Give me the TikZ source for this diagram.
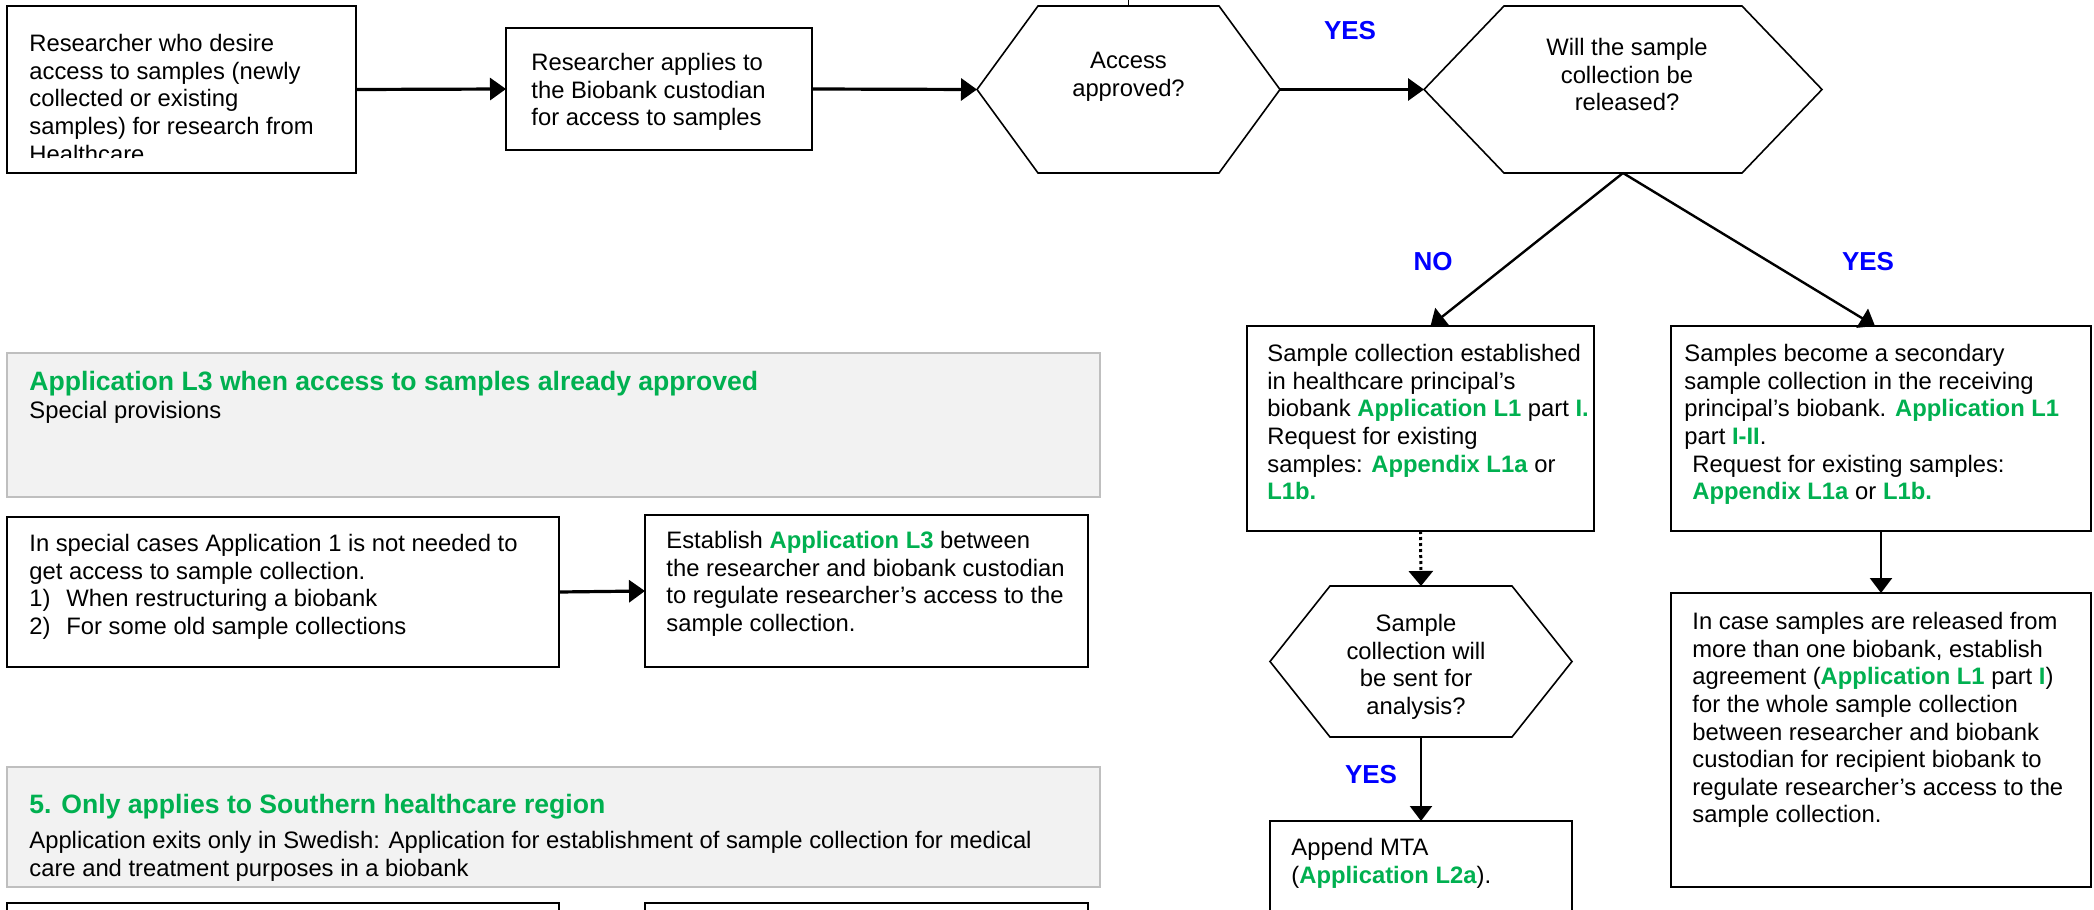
\documentclass[tikz,border=0pt]{standalone}
\usepackage{fontspec}
\setmainfont{Liberation Sans}
\usetikzlibrary{arrows.meta,calc}
\definecolor{grn}{HTML}{00B050}
\definecolor{lblue}{HTML}{0000FF}
\definecolor{gfill}{HTML}{F2F2F2}
\definecolor{gline}{HTML}{BFBFBF}
\newcommand{\gbold}[1]{\textcolor{grn}{\textbf{#1}}}
\newcommand{\bodyfont}{\fontsize{11.9pt}{13.8pt}\selectfont}
\newcommand{\titlefont}{\fontsize{13.3pt}{15pt}\selectfont\bfseries}
\begin{document}
\begin{tikzpicture}[x=0.5pt,y=-0.5pt,
  box/.style={draw=black,line width=1pt,rectangle,inner sep=0pt,outer sep=0pt},
  graybox/.style={draw=gline,fill=gfill,line width=1pt,rectangle,inner sep=0pt,outer sep=0pt},
  hexbox/.style={rectangle,inner sep=0pt,outer sep=0pt},
  hexline/.style={draw=black,line width=0.8pt,line join=miter},
  txt/.style={anchor=north west,inner sep=0pt,align=left,font=\bodyfont},
  ctxt/.style={anchor=north,inner sep=0pt,align=center,font=\bodyfont},
  ttl/.style={anchor=north west,inner sep=0pt,align=left,font=\titlefont,text=grn},
  yn/.style={inner sep=0pt,font=\fontsize{13pt}{15pt}\selectfont\bfseries,text=lblue},
  thickarrow/.style={line width=1.6pt,-{Triangle[length=8pt,width=11pt]}},
  medarrow/.style={line width=1.2pt,-{Triangle[length=7.5pt,width=11pt]}},
  dotarrow/.style={line width=1.5pt,dash pattern=on 1.5pt off 1.5pt,-{Triangle[length=7.5pt,width=12pt]}}
]
\useasboundingbox (0,0) rectangle (2094,910);
\clip (0,0) rectangle (2094,910);
\fill[white] (0,0) rectangle (2094,910);

% ---------- top row ----------
\node[box,minimum width=174.5pt,minimum height=83.5pt] (b1) at (181.5,89.5) {};
\begin{scope}
\clip (7,6) rectangle (356,157);
\node[txt] (b1t) at (29,32) {\strut Researcher who desire\\access to samples (newly\\collected or existing\\samples) for research from\\Healthcare};
\end{scope}

\node[box,minimum width=153pt,minimum height=61pt] (b2) at (659,89) {};
\node[txt] (b2t) at (531,51) {\strut Researcher applies to\\the Biobank custodian\\for access to samples};

\node[hexbox,minimum width=151.5pt,minimum height=83.5pt] (hex1) at (1128.5,89.5) {};
\draw[hexline] (hex1.west) -- ($(hex1.north west)+(61,0)$) -- ($(hex1.north east)+(-61,0)$) -- (hex1.east) -- ($(hex1.south east)+(-61,0)$) -- ($(hex1.south west)+(61,0)$) -- cycle;
\node[ctxt] (hex1t) at (1128.5,49) {\strut Access\\approved?};
\coordinate (topout) at (1128.5,-20);
\draw[hexline] (hex1.north) -- (topout);

\node[hexbox,minimum width=199pt,minimum height=83.5pt] (hex2) at (1623,89.5) {};
\draw[hexline] (hex2.west) -- ($(hex2.north west)+(80,0)$) -- ($(hex2.north east)+(-80,0)$) -- (hex2.east) -- ($(hex2.south east)+(-80,0)$) -- ($(hex2.south west)+(80,0)$) -- cycle;
\node[ctxt] (hex2t) at (1627,36) {\strut Will the sample\\collection be\\released?};

\node[yn] (yes1) at (1350,31) {YES};

\draw[thickarrow] (b1.east) -- (b2.west);
\draw[thickarrow] (b2.east) -- (hex1.west);
\draw[thickarrow] (hex1.east) -- (hex2.west);

% ---------- right branch ----------
\node[box,minimum width=173.5pt,minimum height=102.5pt] (l1) at (1420.5,428.5) {};
\node[txt] (l1t) at (1267,342) {\strut Sample collection established\\in healthcare principal's\\biobank \gbold{Application L1} part \gbold{I.}\\Request for existing\\samples: \gbold{Appendix L1a} or\\\gbold{L1b.}};

\node[box,minimum width=210pt,minimum height=102.5pt] (r1) at (1881,428.5) {};
\node[txt] (r1t) at (1684,342) {\strut Samples become a secondary\\sample collection in the receiving\\principal's biobank. \gbold{Application L1}\\part \gbold{I-II}.\\\hspace*{4pt}Request for existing samples:\\\hspace*{4pt}\gbold{Appendix L1a} or \gbold{L1b.}};

\node[yn] (no1) at (1433,262) {NO};
\node[yn] (yes2) at (1868,262) {YES};
\draw[medarrow] (hex2.south) -- ($(l1.north)+(10,0)$);
\draw[medarrow] (hex2.south) -- ($(r1.north)+(-6,0)$);

\node[hexbox,minimum width=151pt,minimum height=75.5pt] (hex3) at (1421,661.5) {};
\draw[hexline] (hex3.west) -- ($(hex3.north west)+(60,0)$) -- ($(hex3.north east)+(-60,0)$) -- (hex3.east) -- ($(hex3.south east)+(-60,0)$) -- ($(hex3.south west)+(60,0)$) -- cycle;
\node[ctxt] (hex3t) at (1416,612) {\strut Sample\\collection will\\be sent for\\analysis?};
\draw[dotarrow] (l1.south) -- (hex3.north);

\node[box,minimum width=151pt,minimum height=69.5pt] (app) at (1421,890.5) {};
\node[txt] (appt) at (1291,836) {\strut Append MTA\\(\gbold{Application L2a}).};
\node[yn] (yes3) at (1371,775) {YES};
\draw[medarrow] (hex3.south) -- (app.north);

\node[box,minimum width=210pt,minimum height=147pt] (r2) at (1881,740) {};
\node[txt] (r2t) at (1692,610) {\strut In case samples are released from\\more than one biobank, establish\\agreement (\gbold{Application L1} part \gbold{I})\\for the whole sample collection\\between researcher and biobank\\custodian for recipient biobank to\\regulate researcher's access to the\\sample collection.};
\draw[medarrow] (r1.south) -- (r2.north);

% ---------- left middle ----------
\node[graybox,minimum width=546.5pt,minimum height=72pt] (g1) at (553.5,425) {};
\node[ttl] (g1t) at (29,369) {\strut Application L3 when access to samples already approved};
\node[txt] (g1b) at (29,399) {\strut Special provisions};

\node[box,minimum width=276pt,minimum height=75pt] (bl) at (283,592) {};
\node[txt] (blt) at (29,532) {\strut In special cases Application 1 is not needed to\\get access to sample collection.\\\makebox[18.5pt][l]{1)}When restructuring a biobank\\\makebox[18.5pt][l]{2)}For some old sample collections};

\node[box,minimum width=221.5pt,minimum height=76pt] (br) at (866.5,591) {};
\node[txt] (brt) at (666,529) {\strut Establish \gbold{Application L3} between\\the researcher and biobank custodian\\to regulate researcher's access to the\\sample collection.};
\draw[thickarrow] (bl.east) -- (br.west);

% ---------- left bottom ----------
\node[graybox,minimum width=546.5pt,minimum height=60pt] (g2) at (553.5,827) {};
\node[ttl] (g2t) at (29,792) {\strut 5. Only applies to Southern healthcare region};
\node[txt] (g2b) at (29,829) {\strut Application exits only in Swedish: Application for establishment of sample collection for medical\\care and treatment purposes in a biobank};

\node[box,minimum width=276pt,minimum height=28.5pt] (bb1) at (283,931.5) {};
\node[box,minimum width=221.5pt,minimum height=28.5pt] (bb2) at (866.5,931.5) {};

\end{tikzpicture}
\end{document}
